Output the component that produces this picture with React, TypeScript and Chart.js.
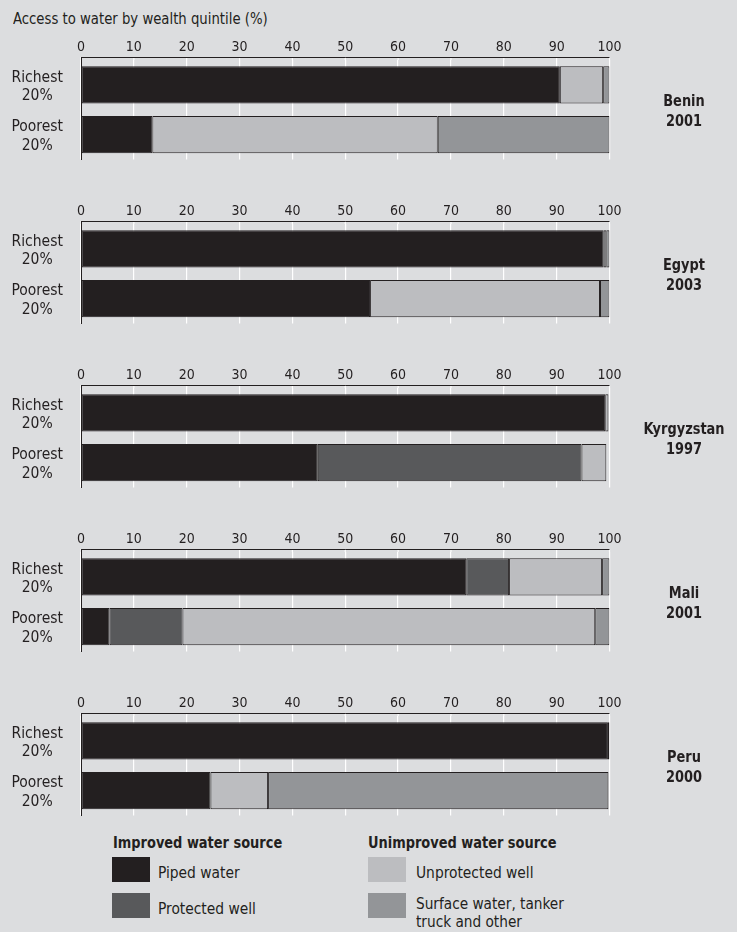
import React, { useEffect, useRef } from 'react';
import { Chart, registerables } from 'chart.js';

Chart.register(...registerables);

const FONT = "'Liberation Sans Narrow', 'DejaVu Sans Condensed', 'Arial Narrow', sans-serif";
const INK = '#231f20';
const BG = '#dcdddf';

// Data
const countries = ['Benin', 'Egypt', 'Kyrgyzstan', 'Mali', 'Peru'];
const years = ['2001', '2003', '1997', '2001', '2000'];
const quintileLabels = [['Richest', '20%'], ['Poorest', '20%']];

const pipedRichest = [90.6, 98.9, 99.2, 72.9, 99.7];
const pipedPoorest = [13.5, 54.7, 44.8, 5.4, 24.5];
const protectedRichest = [0, 0, 0, 8.1, 0];
const protectedPoorest = [0, 0, 49.9, 13.8, 0];
const unprotectedRichest = [8.2, 0.5, 0.6, 17.6, 0];
const unprotectedPoorest = [54.0, 43.5, 4.7, 78.1, 10.9];
const surfaceRichest = [1.2, 0.6, 0, 1.4, 0.3];
const surfacePoorest = [32.5, 1.8, 0, 2.7, 64.4];

const seriesNames = ['Piped water', 'Protected well', 'Unprotected well', 'Surface water, tanker truck and other'];
const seriesColors = ['#231f20', '#58595b', '#bcbdc0', '#939598'];

const xMin = 0;
const xMax = 100;
const xStep = 10;

function Panel({ index }: { index: number }) {
  const ref = useRef<HTMLCanvasElement | null>(null);
  useEffect(() => {
    if (!ref.current) return;
    const richest = [pipedRichest, protectedRichest, unprotectedRichest, surfaceRichest];
    const poorest = [pipedPoorest, protectedPoorest, unprotectedPoorest, surfacePoorest];
    const datasets = seriesNames.map((name, s) => ({
      label: name,
      data: [richest[s][index], poorest[s][index]].map((v) => (v === 0 ? null : v)),
      backgroundColor: seriesColors[s],
      borderColor: INK,
      borderWidth: 1,
      borderSkipped: false as const,
      barPercentage: 0.75,
      categoryPercentage: 1,
    }));
    // Top frame line sits a few pixels above the plot; extend grid lines up to it.
    const framePlugin = {
      id: 'topFrame',
      afterDraw(chart: any) {
        const { ctx, chartArea } = chart;
        const xs = chart.scales.x;
        const gap = 3;
        const yTop = chartArea.top - gap;
        ctx.save();
        ctx.strokeStyle = '#ffffff';
        ctx.lineWidth = 1.2;
        xs.ticks.forEach((t: any) => {
          const px = xs.getPixelForValue(t.value);
          ctx.beginPath();
          ctx.moveTo(px, yTop);
          ctx.lineTo(px, chartArea.top);
          ctx.stroke();
        });
        ctx.strokeStyle = INK;
        ctx.lineWidth = 1;
        ctx.beginPath();
        ctx.moveTo(chartArea.left, yTop + 0.5);
        ctx.lineTo(chartArea.right, yTop + 0.5);
        ctx.stroke();
        ctx.beginPath();
        ctx.moveTo(chartArea.left + 0.5, yTop);
        ctx.lineTo(chartArea.left + 0.5, chartArea.top + 1);
        ctx.stroke();
        // country label
        ctx.fillStyle = INK;
        ctx.font = `bold 16px ${FONT}`;
        ctx.textAlign = 'center';
        ctx.textBaseline = 'middle';
        ctx.translate(684, 0);
        ctx.scale(0.9, 1);
        ctx.fillText(countries[index], 0, chartArea.top + 41.5);
        ctx.fillText(years[index], 0, chartArea.top + 62);
        ctx.restore();
      },
    };
    const chart = new Chart(ref.current, {
      type: 'bar',
      data: { labels: quintileLabels as any, datasets: datasets as any },
      options: {
        indexAxis: 'y',
        responsive: false,
        animation: false,
        layout: { padding: { left: 0, right: 127.5, top: 0, bottom: 6.5 } },
        plugins: { legend: { display: false }, tooltip: { enabled: false } },
        scales: {
          x: {
            position: 'top',
            stacked: true,
            min: xMin,
            max: xMax,
            ticks: {
              stepSize: xStep,
              color: INK,
              font: { family: FONT, size: 14 },
              padding: 4,
              maxRotation: 0,
              autoSkip: false,
            },
            grid: { color: '#ffffff', lineWidth: 1.2, drawTicks: false },
            border: { display: false },
            afterFit: (s: any) => {
              s.height = 24;
              s.paddingLeft = 0;
              s.paddingRight = 0;
            },
          },
          y: {
            stacked: true,
            ticks: {
              color: INK,
              font: { family: FONT, size: 15.5 },
              crossAlign: 'center',
              padding: 18,
              labelOffset: 2,
            },
            grid: { display: true, color: 'transparent', drawTicks: false },
            border: { display: true, color: INK, width: 1 },
            afterFit: (s: any) => {
              s.width = 81;
              s.paddingTop = 0;
              s.paddingBottom = 0;
            },
          },
        },
      } as any,
      plugins: [framePlugin],
    });
    return () => chart.destroy();
  }, [index]);
  return (
    <canvas
      ref={ref}
      width={737}
      height={130}
      style={{ position: 'absolute', left: 0, top: 36 + 164 * index, width: 737, height: 130 }}
    />
  );
}

const textBase: React.CSSProperties = {
  position: 'absolute',
  fontFamily: FONT,
  color: INK,
  fontSize: 16,
  lineHeight: '20px',
  whiteSpace: 'nowrap',
  transformOrigin: '0 0',
};

function Swatch({ x, y, color }: { x: number; y: number; color: string }) {
  return <div style={{ position: 'absolute', left: x, top: y, width: 38, height: 25, background: color }} />;
}

export default function App() {
  return (
    <div
      style={{
        position: 'absolute',
        left: 0,
        top: 0,
        width: 737,
        height: 932,
        background: BG,
        overflow: 'hidden',
      }}
    >
      <div style={{ ...textBase, left: 13, top: 8.7, transform: 'scaleX(0.92)' }}>
        Access to water by wealth quintile (%)
      </div>
      {countries.map((c, i) => (
        <Panel key={c + i} index={i} />
      ))}
      <div style={{ ...textBase, left: 112.5, top: 832.7, fontWeight: 'bold', transform: 'scaleX(0.9)' }}>
        Improved water source
      </div>
      <div style={{ ...textBase, left: 368, top: 832.7, fontWeight: 'bold', transform: 'scaleX(0.9)' }}>
        Unimproved water source
      </div>
      <Swatch x={112} y={857} color={seriesColors[0]} />
      <Swatch x={112} y={893} color={seriesColors[1]} />
      <Swatch x={368} y={857} color={seriesColors[2]} />
      <Swatch x={368} y={893} color={seriesColors[3]} />
      <div style={{ ...textBase, left: 158, top: 863, transform: 'scaleX(0.96)' }}>{seriesNames[0]}</div>
      <div style={{ ...textBase, left: 158, top: 899, transform: 'scaleX(0.96)' }}>{seriesNames[1]}</div>
      <div style={{ ...textBase, left: 415.5, top: 863, transform: 'scaleX(0.96)' }}>{seriesNames[2]}</div>
      <div
        style={{
          ...textBase,
          left: 415.5,
          top: 894.7,
          lineHeight: '18.7px',
          transform: 'scaleX(0.95)',
        }}
      >
        Surface water, tanker
        <br />
        truck and other
      </div>
    </div>
  );
}
